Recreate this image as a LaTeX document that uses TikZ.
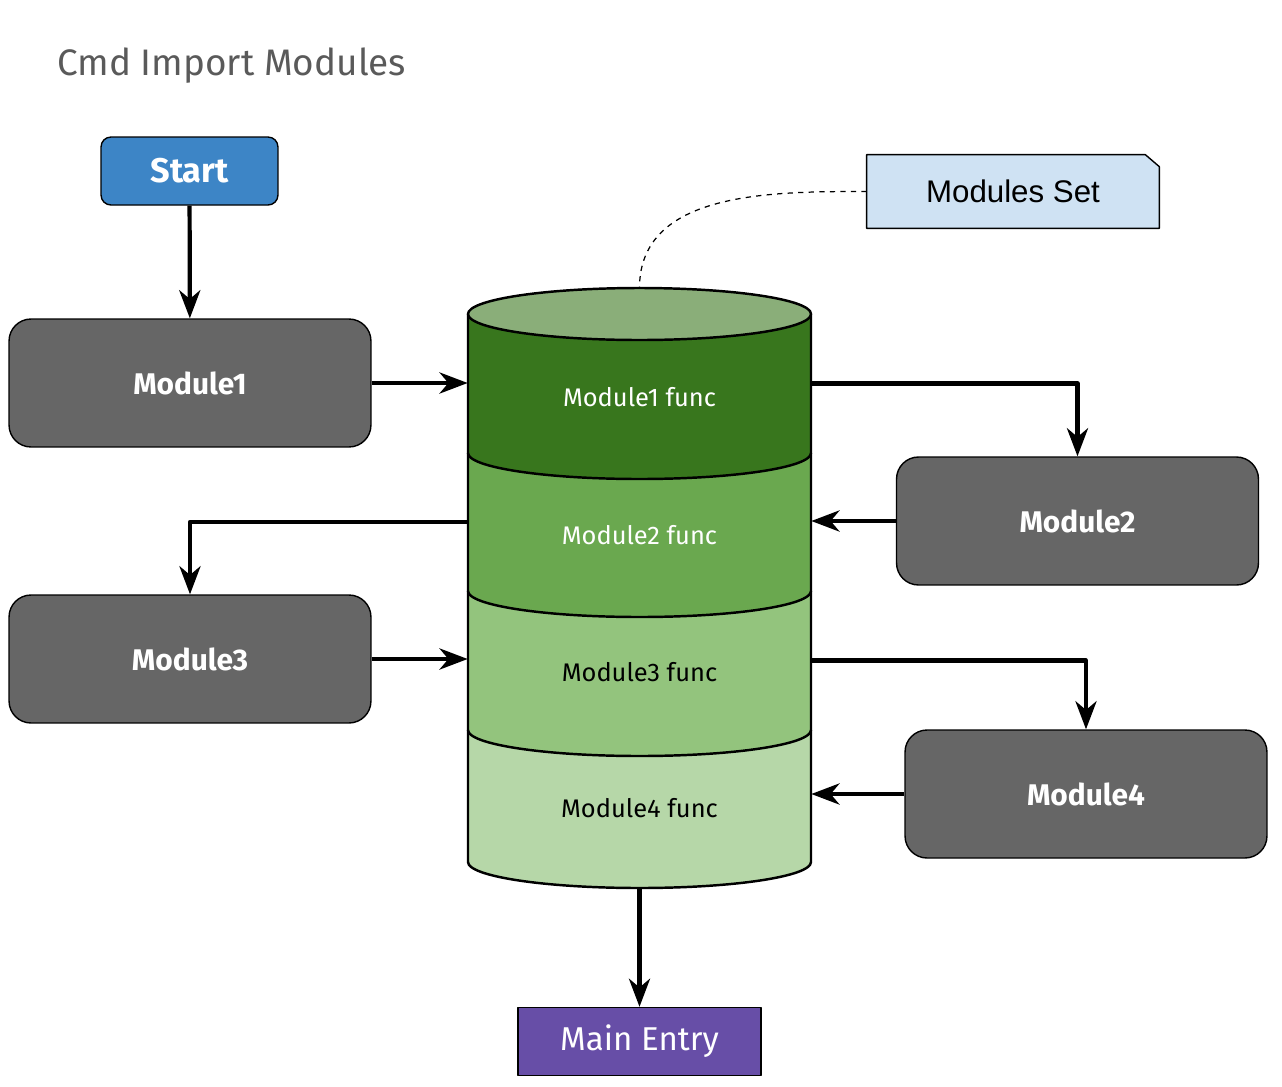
\documentclass[tikz,border=0pt]{standalone}
\usepackage{fontspec}
\setmainfont{Fira Sans}
\newfontfamily\arialfont{Liberation Sans}
\usetikzlibrary{arrows.meta,positioning,calc}
\definecolor{startblue}{HTML}{3D85C6}
\definecolor{modgray}{HTML}{666666}
\definecolor{mainpurple}{HTML}{674EA7}
\definecolor{noteblue}{HTML}{CFE2F3}
\definecolor{cyltop}{HTML}{8AAE79}
\definecolor{secA}{HTML}{38761D}
\definecolor{secB}{HTML}{6AA84F}
\definecolor{secC}{HTML}{93C47D}
\definecolor{secD}{HTML}{B6D7A8}
\definecolor{titlegray}{HTML}{5A5A5A}
\tikzset{
  modbox/.style={draw=black, line width=.8pt, fill=modgray, rounded corners=.44cm,
    minimum width=7.24cm, minimum height=2.56cm, text=white,
    font=\bfseries\fontsize{17}{20}\selectfont},
  sect/.style={minimum width=6.86cm, inner sep=0pt},
  functext/.style={font=\fontsize{14.5}{17}\selectfont},
  arr/.style={line width=2.4pt, -{Stealth[length=16pt,width=12pt,inset=5pt]}}
}
\begin{document}
\begin{tikzpicture}[x=.02cm, y=.02cm, line join=round]
  \def\cl{468} \def\cr{811} \def\rx{171.5} \def\ry{26}
  \useasboundingbox (0,0) rectangle (1282,-1086);
  \fill[white] (0,0) rectangle (1282,-1086);
  % title
  \node[anchor=west, text=titlegray, font=\fontsize{21}{25}\selectfont, inner sep=0pt] (title) at (57,-66) {Cmd Import Modules};
  % boxes
  \node[draw=black, line width=.8pt, fill=startblue, rounded corners=.2cm, minimum width=3.54cm, minimum height=1.36cm,
    text=white, font=\bfseries\fontsize{19.5}{22}\selectfont] (start) at (189.5,-171) {Start};
  \node[modbox] (m1) at (190,-383) {Module1};
  \node[modbox] (m2) at (1077.5,-521) {Module2};
  \node[modbox] (m3) at (190,-659) {Module3};
  \node[modbox] (m4) at (1086,-794) {Module4};
  \node[draw=black, line width=.8pt, fill=mainpurple, minimum width=4.86cm, minimum height=1.36cm,
    text=white, font=\fontsize{18.8}{22}\selectfont] (main) at (639.5,-1041.5) {Main Entry};
  % note
  \node[minimum width=5.84cm, minimum height=1.46cm, inner sep=0pt] (set) at (1013,-191.5) {};
  \draw[line width=.8pt, fill=noteblue] (set.north west) -- ($(set.north east)+(-14,0)$) -- ($(set.north east)+(0,-12)$)
    -- (set.south east) -- (set.south west) -- cycle;
  \node[font=\arialfont\fontsize{17.8}{21}\selectfont] at (set) {Modules Set};
  % cylinder, bottom section first
  \foreach \t/\b/\c in {730/862/secD, 591/730/secC, 453/591/secB, 314/453/secA}
    \path[fill=\c, draw=black, line width=1.4pt] (\cl,-\t) -- (\cl,-\b) arc[start angle=180, end angle=360, x radius=\rx, y radius=\ry] -- (\cr,-\t);
  \draw[fill=cyltop, line width=1.4pt] (639.5,-314) ellipse[x radius=\rx, y radius=\ry];
  \coordinate (cyltopc) at (639.5,-288);
  \coordinate (cylbot) at (639.5,-888);
  \node[sect, minimum height=2.78cm] (s1) at (639.5,-383.5) {};
  \node[sect, minimum height=2.76cm] (s2) at (639.5,-522) {};
  \node[sect, minimum height=2.78cm] (s3) at (639.5,-660.5) {};
  \node[sect, minimum height=2.64cm] (s4) at (639.5,-796) {};
  \node[functext, text=white] (t1) at (639.5,-397) {Module1 func};
  \node[functext, text=white] (t2) at (639.5,-535) {Module2 func};
  \node[functext] (t3) at (639.5,-672) {Module3 func};
  \node[functext] (t4) at (639.5,-808) {Module4 func};
  % connectors
  \draw[dashed, line width=.7pt] (set.west) to[out=180, in=90] (cyltopc);
  \draw[arr] (start) -- (m1);
  \draw[arr] (m1.east) -- (m1.east -| s1.west);
  \draw[arr] (s1.east) -| (m2.north);
  \draw[arr] (m2.west) -- (m2.west -| s2.east);
  \draw[arr] (s2.west) -| (m3.north);
  \draw[arr] (m3.east) -- (m3.east -| s3.west);
  \draw[arr] (s3.east) -| (m4.north);
  \draw[arr] (m4.west) -- (m4.west -| s4.east);
  \draw[arr] (cylbot) -- (main);
\end{tikzpicture}
\end{document}
